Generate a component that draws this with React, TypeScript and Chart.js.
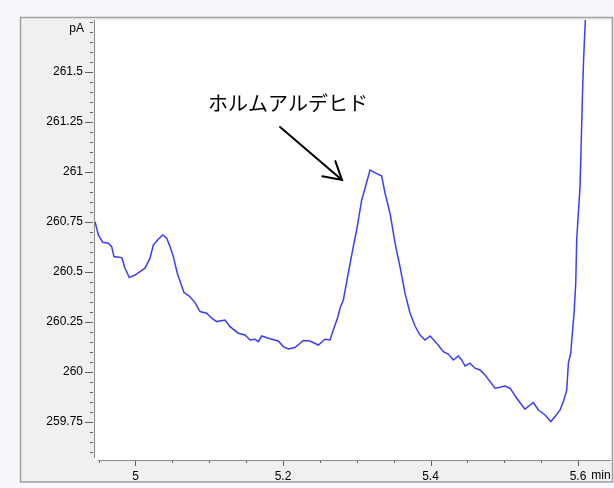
import { useEffect, useRef } from 'react';
import { Chart, registerables } from 'chart.js';

Chart.register(...registerables);

const TIME_MIN = [
  4.9451, 4.9496, 4.9555, 4.9631, 4.9677, 4.9708, 4.9813, 4.9858, 4.9916, 4.9993,
  5.0061, 5.0129, 5.0197, 5.0241, 5.0309, 5.0369, 5.0423, 5.0468, 5.0513, 5.0567,
  5.0613, 5.0658, 5.0729, 5.0807, 5.0875, 5.0965, 5.1033, 5.1101, 5.1214, 5.1281,
  5.1394, 5.1485, 5.1553, 5.162, 5.1665, 5.1711, 5.1801, 5.1936, 5.2004, 5.2072,
  5.2163, 5.2231, 5.2275, 5.2366, 5.2479, 5.2569, 5.2637, 5.2682, 5.2739, 5.2773,
  5.2818, 5.2885, 5.2953, 5.2999, 5.3067, 5.3112, 5.318, 5.3247, 5.3338, 5.3383,
  5.3451, 5.3519, 5.3586, 5.3654, 5.3722, 5.379, 5.3858, 5.3925, 5.3993, 5.4084,
  5.4174, 5.4241, 5.4309, 5.4377, 5.4423, 5.4468, 5.4536, 5.4603, 5.4671, 5.4739,
  5.4807, 5.4875, 5.4942, 5.501, 5.5078, 5.5169, 5.5237, 5.5281, 5.5349, 5.5394,
  5.5462, 5.5553, 5.563, 5.5688, 5.5756, 5.5801, 5.5847, 5.5869, 5.5901, 5.5923,
  5.5946, 5.5969, 5.5982, 5.6004, 5.6027, 5.6041, 5.6058, 5.6072, 5.6085, 5.6099,
  5.611,
];

const SIGNAL_PA = [
  260.752, 260.685, 260.649, 260.644, 260.627, 260.577, 260.572, 260.519, 260.472, 260.485,
  260.502, 260.519, 260.569, 260.635, 260.664, 260.685, 260.669, 260.627, 260.577, 260.494,
  260.444, 260.397, 260.38, 260.347, 260.302, 260.294, 260.269, 260.252, 260.26, 260.227,
  260.194, 260.185, 260.16, 260.164, 260.152, 260.18, 260.169, 260.155, 260.127, 260.115,
  260.122, 260.144, 260.157, 260.155, 260.135, 260.164, 260.16, 260.21, 260.27, 260.319,
  260.36, 260.494, 260.627, 260.71, 260.86, 260.919, 261.01, 260.997, 260.98, 260.894,
  260.794, 260.644, 260.527, 260.394, 260.295, 260.23, 260.185, 260.16, 260.18, 260.144,
  260.102, 260.09, 260.06, 260.08, 260.06, 260.03, 260.044, 260.019, 260.01, 259.985,
  259.952, 259.919, 259.924, 259.93, 259.919, 259.869, 259.835, 259.814, 259.835, 259.847,
  259.81, 259.785, 259.752, 259.777, 259.81, 259.852, 259.91, 260.044, 260.094, 260.194,
  260.294, 260.444, 260.66, 260.794, 260.927, 261.11, 261.36, 261.527, 261.644, 261.76,
  261.9,
];

const X_MAJOR_TICKS = [5, 5.2, 5.4, 5.6];
const X_TICK_LABELS = ['5', '5.2', '5.4', '5.6'];
const Y_MAJOR_TICKS = [259.75, 260, 260.25, 260.5, 260.75, 261, 261.25, 261.5];
const Y_TICK_LABELS = ['259.75', '260', '260.25', '260.5', '260.75', '261', '261.25', '261.5'];
const Y_UNIT = 'pA';
const X_UNIT = 'min';
const PEAK_LABEL = 'ホルムアルデヒド';
// annotation anchors in data units: [time, pA]
const LABEL_AT = [5.2068, 261.345];
const ARROW_FROM = [5.196, 261.225];
const ARROW_TO = [5.28, 260.96];

const X_MIN = 4.9451;
const X_MAX = 5.6447;
const Y_MIN = 259.56;
const Y_MAX = 261.76;
const MINOR_STEP = 0.05;

function minorTicks(lo: number, hi: number): number[] {
  const out: number[] = [];
  const start = Math.ceil(lo / MINOR_STEP - 1e-6);
  const end = Math.floor(hi / MINOR_STEP + 1e-6);
  for (let i = start; i <= end; i++) out.push(Math.round(i * MINOR_STEP * 1000) / 1000);
  return out;
}

function labelFor(v: number, majors: number[], labels: string[]): string {
  const i = majors.findIndex((m) => Math.abs(m - v) < 1e-6);
  return i >= 0 ? labels[i] : '';
}

const TICK_FONT = { family: '"Liberation Sans", Arial, sans-serif', size: 12 };

const framePlugin = {
  id: 'frame',
  beforeDraw(chart: any) {
    const ctx = chart.ctx;
    const { left, top, right, bottom } = chart.chartArea;
    ctx.save();
    ctx.fillStyle = '#f5f7fa';
    ctx.fillRect(0, 0, chart.width, chart.height);
    ctx.fillStyle = '#f0f0f0';
    ctx.fillRect(20, 17, 592, 465);
    ctx.strokeStyle = '#a0a0a0';
    ctx.lineWidth = 1.5;
    ctx.strokeRect(20.5, 17.5, 592, 464.5);
    ctx.fillStyle = '#ffffff';
    ctx.fillRect(left, top, right - left, bottom - top);
    ctx.restore();
  },
  afterDraw(chart: any) {
    const ctx = chart.ctx;
    const { left, top, right, bottom } = chart.chartArea;
    const xs = chart.scales.x;
    const ys = chart.scales.y;
    ctx.save();
    // axis lines
    ctx.strokeStyle = '#8a8a8a';
    ctx.lineWidth = 1;
    ctx.beginPath();
    ctx.moveTo(left - 0.5, top);
    ctx.lineTo(left - 0.5, bottom - 2);
    ctx.moveTo(left + 3, bottom + 0.5);
    ctx.lineTo(right, bottom + 0.5);
    ctx.stroke();
    // y ticks
    ctx.strokeStyle = '#606060';
    ctx.beginPath();
    for (const v of minorTicks(Y_MIN, Y_MAX)) {
      const y = Math.round(ys.getPixelForValue(v)) + 0.5;
      const major = Y_MAJOR_TICKS.some((m) => Math.abs(m - v) < 1e-6);
      ctx.moveTo(major ? left - 10 : left - 5, y);
      ctx.lineTo(left - 2, y);
    }
    // x ticks
    for (const v of minorTicks(X_MIN, X_MAX)) {
      const x = Math.round(xs.getPixelForValue(v)) + 0.5;
      const major = X_MAJOR_TICKS.some((m) => Math.abs(m - v) < 1e-6);
      ctx.moveTo(x, bottom + 1);
      ctx.lineTo(x, bottom + (major ? 6 : 3));
    }
    ctx.stroke();
    // unit labels
    ctx.fillStyle = '#000';
    ctx.font = '12px "Liberation Sans", Arial, sans-serif';
    ctx.textAlign = 'right';
    ctx.textBaseline = 'middle';
    ctx.fillText(Y_UNIT, left - 11, top + 9);
    ctx.textAlign = 'center';
    ctx.fillText(X_UNIT, 601, 476);
    // annotation
    const tx = xs.getPixelForValue(LABEL_AT[0]);
    const ty = ys.getPixelForValue(LABEL_AT[1]);
    ctx.font = '20px "Noto Sans CJK JP", sans-serif';
    ctx.textAlign = 'center';
    ctx.textBaseline = 'middle';
    ctx.fillText(PEAK_LABEL, tx, ty);
    const ax0 = xs.getPixelForValue(ARROW_FROM[0]);
    const ay0 = ys.getPixelForValue(ARROW_FROM[1]);
    const ax1 = xs.getPixelForValue(ARROW_TO[0]);
    const ay1 = ys.getPixelForValue(ARROW_TO[1]);
    const ang = Math.atan2(ay1 - ay0, ax1 - ax0);
    const head = 20;
    const spread = Math.PI / 6;
    ctx.strokeStyle = '#000';
    ctx.lineWidth = 2;
    ctx.lineCap = 'round';
    ctx.beginPath();
    ctx.moveTo(ax0, ay0);
    ctx.lineTo(ax1, ay1);
    ctx.moveTo(ax1 - head * Math.cos(ang - spread), ay1 - head * Math.sin(ang - spread));
    ctx.lineTo(ax1, ay1);
    ctx.lineTo(ax1 - head * Math.cos(ang + spread), ay1 - head * Math.sin(ang + spread));
    ctx.stroke();
    ctx.restore();
  },
};

export default function App() {
  const canvasRef = useRef<HTMLCanvasElement | null>(null);

  useEffect(() => {
    const canvas = canvasRef.current;
    if (!canvas) return;
    const points = TIME_MIN.map((t, i) => ({ x: t, y: SIGNAL_PA[i] }));
    const chart = new Chart(canvas, {
      type: 'line',
      data: {
        datasets: [
          {
            data: points,
            borderColor: '#3c3cff',
            borderWidth: 1.5,
            pointRadius: 0,
            fill: false,
            tension: 0,
          },
        ],
      },
      options: {
        responsive: false,
        animation: false,
        events: [],
        layout: { padding: { left: 0, top: 20, right: 3, bottom: 0 } },
        plugins: { legend: { display: false }, tooltip: { enabled: false } },
        scales: {
          x: {
            type: 'linear',
            min: X_MIN,
            max: X_MAX,
            border: { display: false },
            grid: { display: false, drawTicks: false },
            afterBuildTicks: (scale: any) => {
              scale.ticks = X_MAJOR_TICKS.map((v) => ({ value: v }));
            },
            afterFit: (scale: any) => {
              scale.height = 28;
            },
            ticks: {
              autoSkip: false,
              maxRotation: 0,
              color: '#000',
              font: TICK_FONT,
              padding: 9,
              callback: (v: any) => labelFor(Number(v), X_MAJOR_TICKS, X_TICK_LABELS),
            },
          },
          y: {
            type: 'linear',
            min: Y_MIN,
            max: Y_MAX,
            border: { display: false },
            grid: { display: false, drawTicks: false },
            afterBuildTicks: (scale: any) => {
              scale.ticks = Y_MAJOR_TICKS.map((v) => ({ value: v }));
            },
            afterFit: (scale: any) => {
              scale.width = 95;
            },
            ticks: {
              autoSkip: false,
              color: '#000',
              font: TICK_FONT,
              padding: 12,
              callback: (v: any) => labelFor(Number(v), Y_MAJOR_TICKS, Y_TICK_LABELS),
            },
          },
        },
      },
      plugins: [framePlugin],
    });
    return () => chart.destroy();
  }, []);

  return (
    <div style={{ position: 'fixed', left: 0, top: 0, width: 614, height: 488 }}>
      <canvas ref={canvasRef} width={614} height={488} style={{ display: 'block' }} />
    </div>
  );
}
